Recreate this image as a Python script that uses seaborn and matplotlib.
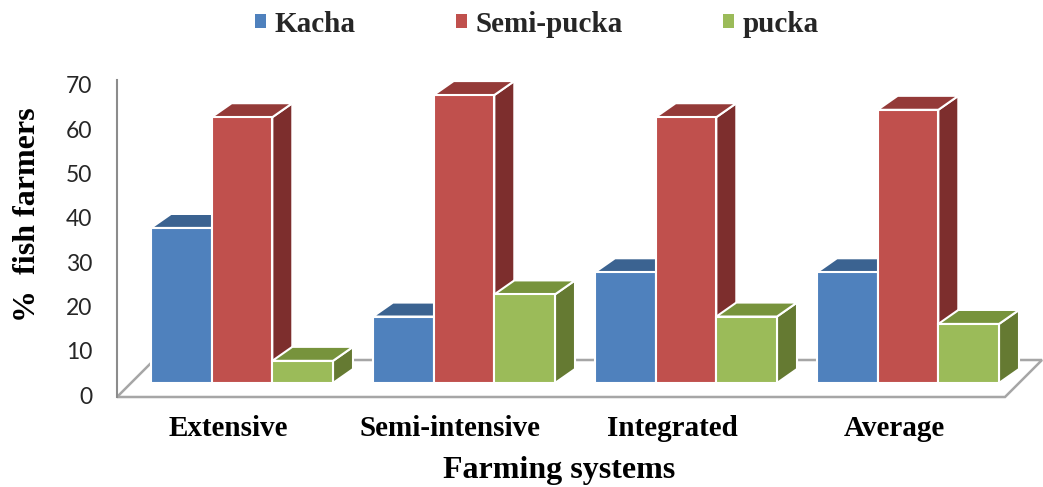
import numpy as np
import pandas as pd
import seaborn as sns
import matplotlib.pyplot as plt
from matplotlib.patches import Polygon, Patch
from matplotlib.font_manager import FontProperties

# ---- data -------------------------------------------------------------
systems = ["Extensive", "Semi-intensive", "Integrated", "Average"]
house_types = ["Kacha", "Semi-pucka", "pucka"]
kacha = [35, 15, 25, 25]
semi_pucka = [60, 65, 60, 61.67]
pucka = [5, 20, 15, 13.33]
y_ticks = [0, 10, 20, 30, 40, 50, 60, 70]

# ---- styling ----------------------------------------------------------
front_colors = ["#4F81BD", "#C0504D", "#9BBB59"]
top_colors = ["#3B6391", "#943A38", "#77933C"]
side_colors = ["#34577F", "#7D2E2D", "#657A32"]

sns.set_style("white")
serif_bold = dict(fontfamily="Liberation Serif", fontweight="bold")

df = pd.DataFrame({
    "system": systems * 3,
    "house": np.repeat(house_types, len(systems)),
    "pct": kacha + semi_pucka + pucka,
})

W, H = 1043, 487
fig = plt.figure(figsize=(W / 100, H / 100), dpi=100)
left_px, right_px, bottom_px, top_px = 117, 1005, 397, 80
ax = fig.add_axes([left_px / W, 1 - bottom_px / H,
                   (right_px - left_px) / W, (bottom_px - top_px) / H])

sns.barplot(data=df, x="system", y="pct", hue="house", order=systems,
            hue_order=house_types, palette=front_colors, saturation=1,
            width=0.82, gap=0, errorbar=None, edgecolor="white",
            linewidth=1.5, legend=False, ax=ax)

ax.set_xlim(-0.563, 3.437)
ax.set_ylim(-3.16, 68.4)

to_px = ax.transData.transform
to_data = ax.transData.inverted().transform


def shifted(pt, dx, dy):
    p = to_px(pt)
    return to_data((p[0] + dx, p[1] + dy))


# floor slab
x0, x1 = ax.get_xlim()
yb = ax.get_ylim()[0]
floor = [(x0, yb), (x1, yb), shifted((x1, yb), 37, 37), shifted((x0, yb), 37, 37)]
ax.add_patch(Polygon(floor, closed=True, facecolor="white", edgecolor="#A6A6A6",
                     linewidth=1.8, zorder=0.5, clip_on=False))

# depth faces for every bar (top and right side), drawn left to right
DX, DY = 20, 14
bars = []
n = len(systems)
for i, p in enumerate(ax.patches):
    if i >= n * len(house_types):
        break
    bars.append((p.get_x(), i // n, p))
bars.sort(key=lambda b: b[0])
for k, (_, h, p) in enumerate(bars):
    bx0, by0 = p.get_x(), p.get_y()
    bx1, by1 = bx0 + p.get_width(), by0 + p.get_height()
    top = [(bx0, by1), (bx1, by1), shifted((bx1, by1), DX, DY), shifted((bx0, by1), DX, DY)]
    side = [(bx1, by1), (bx1, by0), shifted((bx1, by0), DX, DY), shifted((bx1, by1), DX, DY)]
    z = 2 + 2 * k
    ax.add_patch(Polygon(side, closed=True, facecolor=side_colors[h], edgecolor="white",
                         linewidth=1.5, zorder=z, clip_on=False))
    ax.add_patch(Polygon(top, closed=True, facecolor=top_colors[h], edgecolor="white",
                         linewidth=1.5, zorder=z, clip_on=False))
    p.set_zorder(z + 1)
    p.set_clip_on(False)

# axes frame
for s in ["top", "right", "bottom"]:
    ax.spines[s].set_visible(False)
ax.spines["left"].set_color("#8C8C8C")
ax.spines["left"].set_linewidth(1.5)
ax.set_xticks([])
ax.set_yticks([])

# value axis labels sit slightly below the bar baseline
ppu_y = to_px((0, 1))[1] - to_px((0, 0))[1]
ys = 12 / ppu_y
sec_y = ax.secondary_yaxis("left", functions=(lambda v: v + ys, lambda v: v - ys))
sec_y.set_yticks(y_ticks, labels=[str(t) for t in y_ticks],
                 fontfamily="Lato", fontsize=16.5, color="#262626")
sec_y.tick_params(length=0, pad=18)
sec_y.spines["left"].set_visible(False)

ppu_x = to_px((1, 0))[0] - to_px((0, 0))[0]
xs = 14 / ppu_x
sec_x = ax.secondary_xaxis("bottom", functions=(lambda v: v + xs, lambda v: v - xs))
sec_x.set_xticks(range(n), labels=systems, fontsize=21, color="black", **serif_bold)
sec_x.tick_params(length=0, pad=13)
sec_x.spines["bottom"].set_visible(False)

ax.set_xlabel("Farming systems", fontsize=23, color="black", **serif_bold)
ax.xaxis.set_label_coords(0.498, -0.255)
ax.xaxis.label.set_va("baseline")
ax.set_ylabel("%  fish farmers", fontsize=23, color="black", **serif_bold)
ax.yaxis.set_label_coords(-0.101, 0.575)
ax.yaxis.label.set_va("center")

handles = [Patch(facecolor=c, edgecolor="none", label=l)
           for c, l in zip(front_colors, house_types)]
fig.legend(handles=handles, loc="center", bbox_to_anchor=(537 / W, 1 - 24 / H),
           ncol=3, frameon=False, handlelength=0.38, handleheight=0.38,
           handletextpad=0.28, columnspacing=3.45,
           prop=FontProperties(family="Liberation Serif", weight="bold", size=21))

fig.savefig("out.png", dpi=100)
